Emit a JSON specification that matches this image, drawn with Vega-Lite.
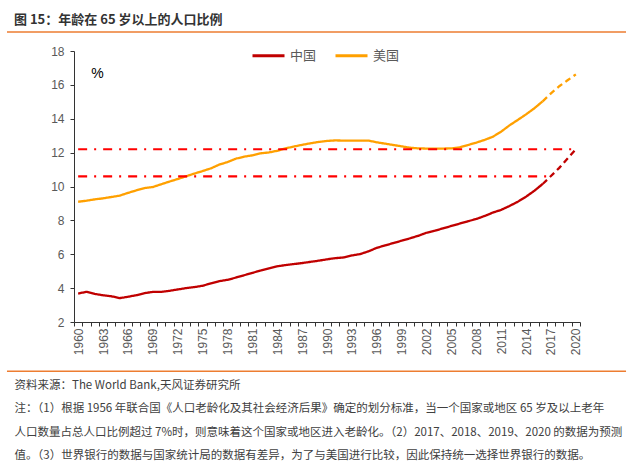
{
  "$schema": "https://vega.github.io/schema/vega-lite/v6.json",
  "width": 506,
  "height": 271,
  "autosize": "none",
  "padding": {"left": 74, "top": 51, "right": 56, "bottom": 146},
  "background": "white",
  "title": {
    "text": "图 15：年龄在 65 岁以上的人口比例",
    "anchor": "start",
    "frame": "group",
    "dx": -60,
    "offset": 4,
    "fontSize": 13,
    "fontWeight": "bold",
    "color": "#333333",
    "font": "Noto Sans CJK SC"
  },
  "config": {
    "view": {"stroke": null},
    "font": "Noto Sans CJK SC",
    "axis": {"grid": false, "domainColor": "#333333", "tickColor": "#333333", "labelColor": "#595959", "labelFont": "Liberation Sans", "labelFontSize": 12}
  },
  "datasets": {
    "lines": [
      {"year": 1960, "country": "中国", "v": 3.68, "seg": "实际"},
      {"year": 1961, "country": "中国", "v": 3.78, "seg": "实际"},
      {"year": 1962, "country": "中国", "v": 3.66, "seg": "实际"},
      {"year": 1963, "country": "中国", "v": 3.58, "seg": "实际"},
      {"year": 1964, "country": "中国", "v": 3.52, "seg": "实际"},
      {"year": 1965, "country": "中国", "v": 3.41, "seg": "实际"},
      {"year": 1966, "country": "中国", "v": 3.49, "seg": "实际"},
      {"year": 1967, "country": "中国", "v": 3.58, "seg": "实际"},
      {"year": 1968, "country": "中国", "v": 3.70, "seg": "实际"},
      {"year": 1969, "country": "中国", "v": 3.78, "seg": "实际"},
      {"year": 1970, "country": "中国", "v": 3.78, "seg": "实际"},
      {"year": 1971, "country": "中国", "v": 3.84, "seg": "实际"},
      {"year": 1972, "country": "中国", "v": 3.92, "seg": "实际"},
      {"year": 1973, "country": "中国", "v": 4.00, "seg": "实际"},
      {"year": 1974, "country": "中国", "v": 4.06, "seg": "实际"},
      {"year": 1975, "country": "中国", "v": 4.14, "seg": "实际"},
      {"year": 1976, "country": "中国", "v": 4.28, "seg": "实际"},
      {"year": 1977, "country": "中国", "v": 4.41, "seg": "实际"},
      {"year": 1978, "country": "中国", "v": 4.49, "seg": "实际"},
      {"year": 1979, "country": "中国", "v": 4.62, "seg": "实际"},
      {"year": 1980, "country": "中国", "v": 4.76, "seg": "实际"},
      {"year": 1981, "country": "中国", "v": 4.90, "seg": "实际"},
      {"year": 1982, "country": "中国", "v": 5.04, "seg": "实际"},
      {"year": 1983, "country": "中国", "v": 5.17, "seg": "实际"},
      {"year": 1984, "country": "中国", "v": 5.29, "seg": "实际"},
      {"year": 1985, "country": "中国", "v": 5.36, "seg": "实际"},
      {"year": 1986, "country": "中国", "v": 5.42, "seg": "实际"},
      {"year": 1987, "country": "中国", "v": 5.48, "seg": "实际"},
      {"year": 1988, "country": "中国", "v": 5.55, "seg": "实际"},
      {"year": 1989, "country": "中国", "v": 5.62, "seg": "实际"},
      {"year": 1990, "country": "中国", "v": 5.70, "seg": "实际"},
      {"year": 1991, "country": "中国", "v": 5.77, "seg": "实际"},
      {"year": 1992, "country": "中国", "v": 5.81, "seg": "实际"},
      {"year": 1993, "country": "中国", "v": 5.93, "seg": "实际"},
      {"year": 1994, "country": "中国", "v": 6.01, "seg": "实际"},
      {"year": 1995, "country": "中国", "v": 6.17, "seg": "实际"},
      {"year": 1996, "country": "中国", "v": 6.38, "seg": "实际"},
      {"year": 1997, "country": "中国", "v": 6.52, "seg": "实际"},
      {"year": 1998, "country": "中国", "v": 6.66, "seg": "实际"},
      {"year": 1999, "country": "中国", "v": 6.80, "seg": "实际"},
      {"year": 2000, "country": "中国", "v": 6.94, "seg": "实际"},
      {"year": 2001, "country": "中国", "v": 7.09, "seg": "实际"},
      {"year": 2002, "country": "中国", "v": 7.27, "seg": "实际"},
      {"year": 2003, "country": "中国", "v": 7.39, "seg": "实际"},
      {"year": 2004, "country": "中国", "v": 7.53, "seg": "实际"},
      {"year": 2005, "country": "中国", "v": 7.67, "seg": "实际"},
      {"year": 2006, "country": "中国", "v": 7.81, "seg": "实际"},
      {"year": 2007, "country": "中国", "v": 7.95, "seg": "实际"},
      {"year": 2008, "country": "中国", "v": 8.08, "seg": "实际"},
      {"year": 2009, "country": "中国", "v": 8.26, "seg": "实际"},
      {"year": 2010, "country": "中国", "v": 8.46, "seg": "实际"},
      {"year": 2011, "country": "中国", "v": 8.62, "seg": "实际"},
      {"year": 2012, "country": "中国", "v": 8.85, "seg": "实际"},
      {"year": 2013, "country": "中国", "v": 9.10, "seg": "实际"},
      {"year": 2014, "country": "中国", "v": 9.40, "seg": "实际"},
      {"year": 2015, "country": "中国", "v": 9.75, "seg": "实际"},
      {"year": 2016, "country": "中国", "v": 10.15, "seg": "实际"},
      {"year": 2016, "country": "中国", "v": 10.15, "seg": "预测"},
      {"year": 2017, "country": "中国", "v": 10.62, "seg": "预测"},
      {"year": 2018, "country": "中国", "v": 11.10, "seg": "预测"},
      {"year": 2019, "country": "中国", "v": 11.65, "seg": "预测"},
      {"year": 2020, "country": "中国", "v": 12.20, "seg": "预测"},
      {"year": 1960, "country": "美国", "v": 9.10, "seg": "实际"},
      {"year": 1961, "country": "美国", "v": 9.16, "seg": "实际"},
      {"year": 1962, "country": "美国", "v": 9.24, "seg": "实际"},
      {"year": 1963, "country": "美国", "v": 9.30, "seg": "实际"},
      {"year": 1964, "country": "美国", "v": 9.38, "seg": "实际"},
      {"year": 1965, "country": "美国", "v": 9.46, "seg": "实际"},
      {"year": 1966, "country": "美国", "v": 9.62, "seg": "实际"},
      {"year": 1967, "country": "美国", "v": 9.77, "seg": "实际"},
      {"year": 1968, "country": "美国", "v": 9.91, "seg": "实际"},
      {"year": 1969, "country": "美国", "v": 9.97, "seg": "实际"},
      {"year": 1970, "country": "美国", "v": 10.13, "seg": "实际"},
      {"year": 1971, "country": "美国", "v": 10.29, "seg": "实际"},
      {"year": 1972, "country": "美国", "v": 10.44, "seg": "实际"},
      {"year": 1973, "country": "美国", "v": 10.60, "seg": "实际"},
      {"year": 1974, "country": "美国", "v": 10.76, "seg": "实际"},
      {"year": 1975, "country": "美国", "v": 10.91, "seg": "实际"},
      {"year": 1976, "country": "美国", "v": 11.07, "seg": "实际"},
      {"year": 1977, "country": "美国", "v": 11.29, "seg": "实际"},
      {"year": 1978, "country": "美国", "v": 11.44, "seg": "实际"},
      {"year": 1979, "country": "美国", "v": 11.64, "seg": "实际"},
      {"year": 1980, "country": "美国", "v": 11.76, "seg": "实际"},
      {"year": 1981, "country": "美国", "v": 11.84, "seg": "实际"},
      {"year": 1982, "country": "美国", "v": 11.96, "seg": "实际"},
      {"year": 1983, "country": "美国", "v": 12.01, "seg": "实际"},
      {"year": 1984, "country": "美国", "v": 12.11, "seg": "实际"},
      {"year": 1985, "country": "美国", "v": 12.25, "seg": "实际"},
      {"year": 1986, "country": "美国", "v": 12.36, "seg": "实际"},
      {"year": 1987, "country": "美国", "v": 12.46, "seg": "实际"},
      {"year": 1988, "country": "美国", "v": 12.55, "seg": "实际"},
      {"year": 1989, "country": "美国", "v": 12.63, "seg": "实际"},
      {"year": 1990, "country": "美国", "v": 12.69, "seg": "实际"},
      {"year": 1991, "country": "美国", "v": 12.72, "seg": "实际"},
      {"year": 1992, "country": "美国", "v": 12.71, "seg": "实际"},
      {"year": 1993, "country": "美国", "v": 12.71, "seg": "实际"},
      {"year": 1994, "country": "美国", "v": 12.71, "seg": "实际"},
      {"year": 1995, "country": "美国", "v": 12.71, "seg": "实际"},
      {"year": 1996, "country": "美国", "v": 12.61, "seg": "实际"},
      {"year": 1997, "country": "美国", "v": 12.53, "seg": "实际"},
      {"year": 1998, "country": "美国", "v": 12.45, "seg": "实际"},
      {"year": 1999, "country": "美国", "v": 12.37, "seg": "实际"},
      {"year": 2000, "country": "美国", "v": 12.29, "seg": "实际"},
      {"year": 2001, "country": "美国", "v": 12.25, "seg": "实际"},
      {"year": 2002, "country": "美国", "v": 12.24, "seg": "实际"},
      {"year": 2003, "country": "美国", "v": 12.24, "seg": "实际"},
      {"year": 2004, "country": "美国", "v": 12.24, "seg": "实际"},
      {"year": 2005, "country": "美国", "v": 12.25, "seg": "实际"},
      {"year": 2006, "country": "美国", "v": 12.31, "seg": "实际"},
      {"year": 2007, "country": "美国", "v": 12.45, "seg": "实际"},
      {"year": 2008, "country": "美国", "v": 12.59, "seg": "实际"},
      {"year": 2009, "country": "美国", "v": 12.75, "seg": "实际"},
      {"year": 2010, "country": "美国", "v": 12.94, "seg": "实际"},
      {"year": 2011, "country": "美国", "v": 13.24, "seg": "实际"},
      {"year": 2012, "country": "美国", "v": 13.61, "seg": "实际"},
      {"year": 2013, "country": "美国", "v": 13.93, "seg": "实际"},
      {"year": 2014, "country": "美国", "v": 14.26, "seg": "实际"},
      {"year": 2015, "country": "美国", "v": 14.62, "seg": "实际"},
      {"year": 2016, "country": "美国", "v": 15.03, "seg": "实际"},
      {"year": 2016, "country": "美国", "v": 15.03, "seg": "预测"},
      {"year": 2017, "country": "美国", "v": 15.50, "seg": "预测"},
      {"year": 2018, "country": "美国", "v": 15.92, "seg": "预测"},
      {"year": 2019, "country": "美国", "v": 16.27, "seg": "预测"},
      {"year": 2020, "country": "美国", "v": 16.62, "seg": "预测"}
    ],
    "refs": [
      {"level": 12.2, "from": 1960, "to": 2020},
      {"level": 10.6, "from": 1960, "to": 2017}
    ]
  },
  "layer": [
    {
      "data": {"name": "lines"},
      "mark": {"type": "line", "strokeWidth": 2.3},
      "encoding": {
        "x": {
          "field": "year",
          "type": "quantitative",
          "scale": {"domain": [1959.5, 2020.5], "nice": false, "zero": false},
          "axis": {
            "values": [1959.5,1960.5,1961.5,1962.5,1963.5,1964.5,1965.5,1966.5,1967.5,1968.5,1969.5,1970.5,1971.5,1972.5,1973.5,1974.5,1975.5,1976.5,1977.5,1978.5,1979.5,1980.5,1981.5,1982.5,1983.5,1984.5,1985.5,1986.5,1987.5,1988.5,1989.5,1990.5,1991.5,1992.5,1993.5,1994.5,1995.5,1996.5,1997.5,1998.5,1999.5,2000.5,2001.5,2002.5,2003.5,2004.5,2005.5,2006.5,2007.5,2008.5,2009.5,2010.5,2011.5,2012.5,2013.5,2014.5,2015.5,2016.5,2017.5,2018.5,2019.5,2020.5],
            "tickCount": 200,
            "labelExpr": "(datum.value + 0.5) % 3 == 1 ? '' + (datum.value + 0.5) : ''",
            "labelAngle": 270,
            "labelAlign": "right",
            "labelBaseline": "middle",
            "labelOffset": 4.15,
            "labelPadding": 2,
            "labelOverlap": false,
            "labelFlush": false,
            "labelBound": false,
            "tickSize": 4,
            "title": [
              "资料来源：The World Bank,天风证券研究所",
              "注：（1）根据 1956 年联合国《人口老龄化及其社会经济后果》确定的划分标准，当一个国家或地区 65 岁及以上老年",
              "人口数量占总人口比例超过 7%时，则意味着这个国家或地区进入老龄化。（2）2017、2018、2019、2020 的数据为预测",
              "值。（3）世界银行的数据与国家统计局的数据有差异，为了与美国进行比较，因此保持统一选择世界银行的数据。"
            ],
            "titleAnchor": "start",
            "titleAlign": "left",
            "titleBaseline": "top",
            "titleX": -60,
            "titleY": 57,
            "titleFontSize": 11.5,
            "titleFontWeight": "normal",
            "titleColor": "#404040",
            "titleFont": "Noto Sans CJK SC",
            "titleLineHeight": 23.5
          }
        },
        "y": {
          "field": "v",
          "type": "quantitative",
          "scale": {"domain": [2, 18], "nice": false, "zero": false},
          "axis": {
            "values": [2,4,6,8,10,12,14,16,18],
            "tickCount": 50,
            "format": "d",
            "labelOverlap": false,
            "tickSize": 4,
            "labelPadding": 6,
            "title": "%",
            "titleAngle": 0,
            "titleX": 23,
            "titleY": 22,
            "titleAlign": "center",
            "titleBaseline": "middle",
            "titleFontSize": 14,
            "titleFontWeight": "normal",
            "titleColor": "#000000",
            "titleFont": "Liberation Sans"
          }
        },
        "color": {
          "field": "country",
          "type": "nominal",
          "scale": {"domain": ["中国", "美国"], "range": ["#C00000", "#FFA000"]},
          "legend": {
            "title": null,
            "orient": "none",
            "legendX": 177,
            "legendY": -13,
            "direction": "horizontal",
            "symbolType": "stroke",
            "symbolSize": 1024,
            "symbolStrokeWidth": 3,
            "labelFontSize": 13,
            "labelColor": "#595959",
            "labelFont": "Noto Sans CJK SC",
            "labelOffset": 4,
            "columnPadding": 12
          }
        },
        "strokeDash": {
          "field": "seg",
          "type": "nominal",
          "scale": {"domain": ["实际", "预测"], "range": [[1, 0], [6, 4]]},
          "legend": null
        }
      }
    },
    {
      "data": {"name": "refs"},
      "mark": {"type": "rule", "color": "#FF0000", "strokeWidth": 2.2, "strokeDash": [9, 7, 2, 7]},
      "encoding": {
        "x": {"field": "from", "type": "quantitative"},
        "x2": {"field": "to"},
        "y": {"field": "level", "type": "quantitative"}
      }
    },
    {
      "data": {"values": [{}]},
      "mark": {"type": "rule", "color": "#ED7D31", "strokeWidth": 1.5},
      "encoding": {
        "x": {"datum": 1951.42, "type": "quantitative"},
        "x2": {"datum": 2026.05},
        "y": {"datum": 19.12, "type": "quantitative"}
      }
    },
    {
      "data": {"values": [{}]},
      "mark": {"type": "rule", "color": "#ED7D31", "strokeWidth": 1.5},
      "encoding": {
        "x": {"datum": 1951.42, "type": "quantitative"},
        "x2": {"datum": 2026.05},
        "y": {"datum": -0.91, "type": "quantitative"}
      }
    }
  ]
}
